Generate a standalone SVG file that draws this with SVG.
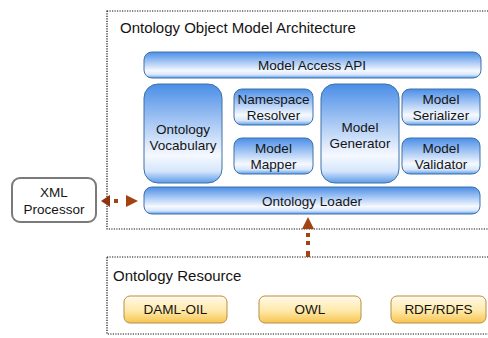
<svg xmlns="http://www.w3.org/2000/svg" width="488" height="338" viewBox="0 0 488 338">
<style>
.frame{fill:none;stroke:#111;stroke-width:1.2;stroke-dasharray:1.2 1.3}
.blue{fill:url(#gBlue);stroke:#3f70a8;stroke-width:1}
.gold{fill:url(#gGold);stroke:#b88f45;stroke-width:1}
.gray{fill:#fff;stroke:#7a7a7a;stroke-width:2}
text{font-family:"Liberation Sans",Arial,sans-serif;fill:#141414}
.lbl{font-size:13.5px;text-anchor:middle}
.ttl{font-size:15px}
.con{fill:none;stroke:#a3430f;stroke-width:4}
</style>
<defs>
<linearGradient id="gBlue" x1="0" y1="0" x2="0" y2="1">
<stop offset="0" stop-color="#4a8ee7"/>
<stop offset="0.72" stop-color="#f6f9ff"/>
<stop offset="0.88" stop-color="#d6e6fb"/>
<stop offset="1" stop-color="#5b9beb"/>
</linearGradient>
<linearGradient id="gGold" x1="0" y1="0" x2="0" y2="1">
<stop offset="0" stop-color="#fffaea"/>
<stop offset="0.55" stop-color="#ffe9a8"/>
<stop offset="1" stop-color="#f6c450"/>
</linearGradient>
<marker id="ah" markerUnits="userSpaceOnUse" markerWidth="14" markerHeight="14" refX="12" refY="6" orient="auto-start-reverse" viewBox="0 0 14 12">
<path d="M0,0 L12,6 L0,12 Z" fill="#a3430f"/>
</marker>
<marker id="ahs" markerUnits="userSpaceOnUse" markerWidth="10" markerHeight="12" refX="9" refY="6" orient="auto-start-reverse" viewBox="0 0 10 12">
<path d="M0,0 L9,6 L0,12 Z" fill="#8f350c"/>
</marker>
</defs>

<g id="frame-architecture">
<rect class="frame" x="107" y="11" width="470" height="218"/>
<text class="ttl" x="120" y="33">Ontology Object Model Architecture</text>
</g>
<g id="frame-resource">
<rect class="frame" x="107" y="257" width="470" height="77"/>
<text class="ttl" x="113" y="281">Ontology Resource</text>
</g>

<g id="model-access-api">
<rect class="blue" x="144" y="52" width="337" height="26" rx="8"/>
<text class="lbl" x="312" y="70">Model Access API</text>
</g>
<g id="ontology-vocabulary">
<rect class="blue" x="144" y="84" width="78" height="99" rx="14"/>
<text class="lbl" x="183" y="134">Ontology</text>
<text class="lbl" x="183" y="150">Vocabulary</text>
</g>
<g id="namespace-resolver">
<rect class="blue" x="234" y="89" width="79" height="36" rx="8"/>
<text class="lbl" x="273.5" y="104">Namespace</text>
<text class="lbl" x="273.5" y="120">Resolver</text>
</g>
<g id="model-mapper">
<rect class="blue" x="234" y="138" width="79" height="36" rx="8"/>
<text class="lbl" x="273.5" y="153">Model</text>
<text class="lbl" x="273.5" y="169">Mapper</text>
</g>
<g id="model-generator">
<rect class="blue" x="321" y="84" width="78" height="99" rx="14"/>
<text class="lbl" x="360" y="132">Model</text>
<text class="lbl" x="360" y="148">Generator</text>
</g>
<g id="model-serializer">
<rect class="blue" x="402" y="89" width="78" height="36" rx="8"/>
<text class="lbl" x="441" y="104">Model</text>
<text class="lbl" x="441" y="120">Serializer</text>
</g>
<g id="model-validator">
<rect class="blue" x="402" y="138" width="78" height="36" rx="8"/>
<text class="lbl" x="441" y="153">Model</text>
<text class="lbl" x="441" y="169">Validator</text>
</g>
<g id="ontology-loader">
<rect class="blue" x="144" y="187" width="336" height="27" rx="8"/>
<text class="lbl" x="312" y="206">Ontology Loader</text>
</g>
<g id="xml-processor">
<rect class="gray" x="12" y="178" width="84" height="44" rx="8"/>
<text class="lbl" x="54" y="197">XML</text>
<text class="lbl" x="54" y="214">Processor</text>
</g>
<g id="daml-oil">
<rect class="gold" x="124" y="296" width="103" height="27" rx="6"/>
<text class="lbl" x="175.5" y="314">DAML-OIL</text>
</g>
<g id="owl">
<rect class="gold" x="259" y="296" width="102" height="27" rx="6"/>
<text class="lbl" x="310" y="314">OWL</text>
</g>
<g id="rdf-rdfs">
<rect class="gold" x="391" y="296" width="95" height="27" rx="6"/>
<text class="lbl" x="438.5" y="314">RDF/RDFS</text>
</g>

<g id="connectors">
<path class="con" d="M101,201 L138,201" stroke-dasharray="0 13 4 100" marker-start="url(#ahs)" marker-end="url(#ah)"/>
<path class="con" d="M308,257 L308,217" stroke-dasharray="6 6 4 4 4 100" marker-end="url(#ah)"/>
</g>
</svg>
